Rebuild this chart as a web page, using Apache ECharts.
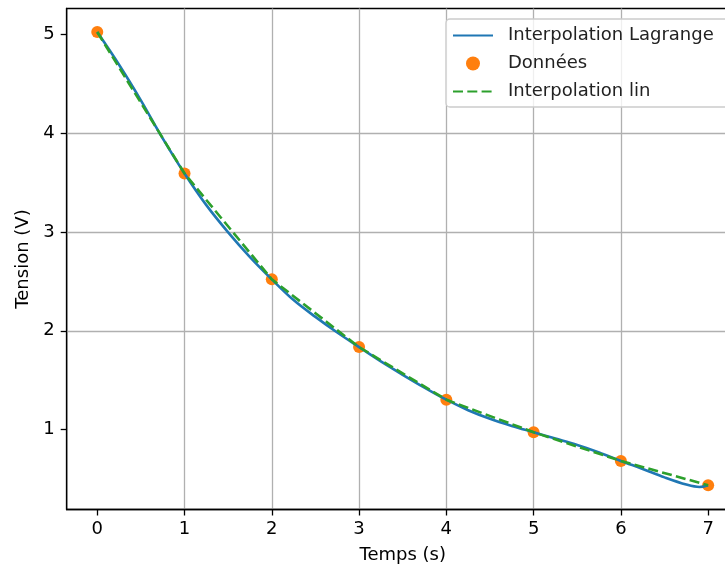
<!DOCTYPE html>
<html>
<head>
<meta charset="utf-8">
<script src="https://cdn.jsdelivr.net/npm/echarts@6/dist/echarts.min.js"></script>
<style>
html,body{margin:0;padding:0;background:#fff;}
#c{width:725px;height:569px;}
</style>
</head>
<body>
<div id="c"></div>
<script>
// Measured data points (Données)
const tData = [0, 1, 2, 3, 4, 5, 6, 7];
const vData = [5.02, 3.59, 2.52, 1.835, 1.303, 0.974, 0.684, 0.438];

// Lagrange interpolation curve
const tLag = [0, 0.25, 0.5, 0.75, 1, 1.25, 1.5, 1.75, 2, 2.25, 2.5, 2.75, 3, 3.25, 3.5, 3.75, 4, 4.25, 4.5, 4.75, 5, 5.25, 5.5, 5.75, 6, 6.25, 6.5, 6.75, 6.9, 7];
const vLag = [5.02, 4.69, 4.33, 3.945, 3.59, 3.27, 2.995, 2.745, 2.52, 2.31, 2.14, 1.982, 1.835, 1.69, 1.555, 1.425, 1.303, 1.197, 1.11, 1.038, 0.974, 0.91, 0.845, 0.77, 0.684, 0.603, 0.518, 0.445, 0.42, 0.438];

// Tick values
const xTicks = [0, 1, 2, 3, 4, 5, 6, 7];
const yTicks = [1, 2, 3, 4, 5];

const seriesNames = ['Interpolation Lagrange', 'Données', 'Interpolation lin'];

const zip = (a, b) => a.map((v, i) => [v, b[i]]);
const FONT = 'DejaVu Sans';
const FS = 18;

const chart = echarts.init(document.getElementById('c'), null, {renderer: 'canvas'});
chart.setOption({
  animation: false,
  backgroundColor: '#ffffff',
  textStyle: {fontFamily: FONT},
  grid: {
    left: 66.7, top: 8.5, width: 672, height: 501,
    outerBoundsMode: 'none', containLabel: false,
    show: true, borderColor: '#000', borderWidth: 1.3, backgroundColor: 'transparent'
  },
  graphic: [{
    type: 'rect', z: 3, silent: true,
    shape: {x: 446, y: 19, width: 330, height: 88, r: 4},
    style: {fill: 'rgba(255,255,255,0.8)', stroke: '#cccccc', lineWidth: 1.3}
  }],
  legend: {
    orient: 'vertical',
    left: 446, top: 19, z: 4,
    padding: [6, 6, 6, 6],
    itemGap: 7,
    itemWidth: 40, itemHeight: 14,
    backgroundColor: 'transparent', borderWidth: 0,
    textStyle: {fontFamily: FONT, fontSize: FS, lineHeight: 21, color: '#222222', padding: [0, 0, 0, 10]},
    data: [
      {name: seriesNames[0], itemStyle: {opacity: 0}},
      {name: seriesNames[1]},
      {name: seriesNames[2], itemStyle: {opacity: 0}}
    ]
  },
  xAxis: {
    type: 'value',
    min: -0.35, max: 7.35,
    minInterval: 1, maxInterval: 1,
    name: 'Temps (s)', nameLocation: 'middle', nameGap: 37,
    nameTextStyle: {fontFamily: FONT, fontSize: FS, color: '#000'},
    axisLine: {show: true, onZero: false, lineStyle: {color: '#000', width: 1.3}},
    axisTick: {show: true, inside: false, length: 6, lineStyle: {color: '#000', width: 1.3}, customValues: xTicks},
    axisLabel: {fontFamily: FONT, fontSize: FS, color: '#000', margin: 11, customValues: xTicks},
    splitLine: {show: true, showMinLine: false, showMaxLine: false, lineStyle: {color: '#b0b0b0', width: 1.3}}
  },
  yAxis: {
    type: 'value',
    min: 0.193, max: 5.258,
    minInterval: 1, maxInterval: 1,
    name: 'Tension (V)', nameLocation: 'middle', nameGap: 33,
    nameTextStyle: {fontFamily: FONT, fontSize: FS, color: '#000'},
    axisLine: {show: true, onZero: false, lineStyle: {color: '#000', width: 1.3}},
    axisTick: {show: true, inside: false, length: 6, lineStyle: {color: '#000', width: 1.3}, customValues: yTicks},
    axisLabel: {fontFamily: FONT, fontSize: FS, color: '#000', margin: 12, customValues: yTicks},
    splitLine: {show: true, showMinLine: false, showMaxLine: false, lineStyle: {color: '#b0b0b0', width: 1.3}}
  },
  series: [
    {
      name: seriesNames[0], type: 'line', data: zip(tLag, vLag),
      smooth: 0.35, symbol: 'none',
      lineStyle: {color: '#1f77b4', width: 2.6},
      itemStyle: {color: '#1f77b4'}
    },
    {
      name: seriesNames[1], type: 'scatter', data: zip(tData, vData),
      symbol: 'circle', symbolSize: 12,
      itemStyle: {color: '#ff7f0e', opacity: 1}
    },
    {
      name: seriesNames[2], type: 'line', data: zip(tData, vData),
      symbol: 'none',
      lineStyle: {color: '#2ca02c', width: 2.6, type: [10, 4.3]},
      itemStyle: {color: '#2ca02c'}
    }
  ]
});
</script>
</body>
</html>
